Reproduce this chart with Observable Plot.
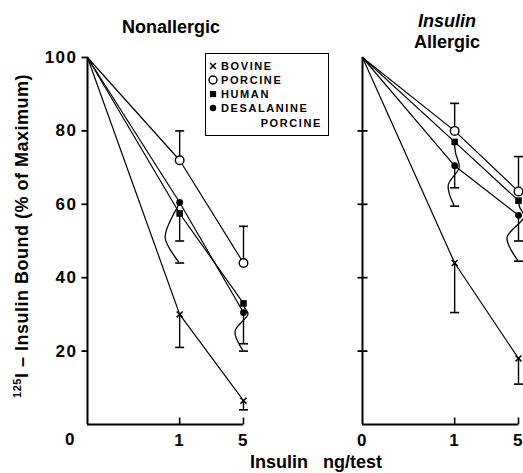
<!DOCTYPE html>
<html>
<head>
<meta charset="utf-8">
<script src="https://cdn.jsdelivr.net/npm/d3@7"></script>
<script src="https://cdn.jsdelivr.net/npm/@observablehq/plot@0.6"></script>
<style>
  body { margin: 0; background: #fff; }
  #wrap { position: relative; width: 523px; height: 473px; overflow: hidden; background: #fff; }
  .legend { position: absolute; left: 205px; top: 53px; width: 124px; height: 83px; box-sizing: border-box;
    border: 1.5px solid #000; background: #fff; font: bold 11px "Liberation Sans", Arial, sans-serif; letter-spacing: 1.6px; color: #000; }
  .legend .row { position: absolute; left: 0; height: 14px; line-height: 14px; white-space: nowrap; }
  .legend svg { position: absolute; top: 2px; }
</style>
</head>
<body>
<div id="wrap"></div>
<script>
// ---------- data ----------
const doses = [0, 1, 5];
const doseLabels = ["0", "1", "5"];
const yTicks = [20, 40, 60, 80, 100];
const seriesNames = ["BOVINE", "PORCINE", "HUMAN", "DESALANINE PORCINE"];
const panelNames = ["Nonallergic", "Insulin Allergic"];

// % of maximum bound at doses 0, 1, 5 ng/test
const nonBovine  = [100, 30, 6.5];
const nonPorcine = [100, 72, 44];
const nonHuman   = [100, 57.5, 33];
const nonDesal   = [100, 60.5, 30.5];
const allBovine  = [100, 44, 18];
const allPorcine = [100, 80, 63.5];
const allHuman   = [100, 77, 61];
const allDesal   = [100, 70.5, 57];

// error bar ends (null = none)
const nonBovineErr  = [null, 21, 4];
const nonPorcineErr = [null, 80, 54];
const nonHumanErr   = [null, 50, 20];
const nonDesalErr   = [null, 44, 22];
const allBovineErr  = [null, 30.5, 11];
const allPorcineErr = [null, 87.5, 73];
const allHumanErr   = [null, 59.5, 44.5];
const allDesalErr   = [null, 64.5, 50];

// error bars drawn as curved leaders around another series' point: [panel, series, dose, around]
const curvedBars = [
  ["Nonallergic", "DESALANINE PORCINE", 1, "HUMAN"],
  ["Nonallergic", "HUMAN", 5, "DESALANINE PORCINE"],
  ["Insulin Allergic", "HUMAN", 1, "DESALANINE PORCINE"],
  ["Insulin Allergic", "HUMAN", 5, "DESALANINE PORCINE"]
];

// ---------- style ----------
const FONT = '"Liberation Sans", Arial, Helvetica, sans-serif';
const curveBulge = [[-6, -14], [5, -8], [5, -6], [6, -11]]; // px offsets of leader bulges

// ---------- tables ----------
const valueTable = {
  "Nonallergic": [nonBovine, nonPorcine, nonHuman, nonDesal],
  "Insulin Allergic": [allBovine, allPorcine, allHuman, allDesal]
};
const errTable = {
  "Nonallergic": [nonBovineErr, nonPorcineErr, nonHumanErr, nonDesalErr],
  "Insulin Allergic": [allBovineErr, allPorcineErr, allHumanErr, allDesalErr]
};
const rows = [];
for (const p of panelNames) {
  seriesNames.forEach((s, i) => {
    doses.forEach((d, j) => {
      rows.push({panel: p, series: s, dose: d, value: valueTable[p][i][j], err: errTable[p][i][j]});
    });
  });
}
const find = (p, s, d) => rows.find(r => r.panel === p && r.series === s && r.dose === d);
const isCurved = r => curvedBars.some(c => c[0] === r.panel && c[1] === r.series && c[2] === r.dose);

// custom symbols
const capSym = {draw(c) { c.moveTo(-4.5, 0); c.lineTo(4.5, 0); }};
const upTick = {draw(c) { c.moveTo(0, 0); c.lineTo(0, -7); }};
const leftTick = {draw(c) { c.moveTo(-6, 0); c.lineTo(0, 0); }};
const crossTick = {draw(c) { c.moveTo(-5, 0); c.lineTo(5, 0); }};

function leaders(panel) {
  const items = curvedBars.map((c, k) => ({c, k})).filter(o => o.c[0] === panel);
  return (index, scales) => {
    const x = scales.x, y = scales.y;
    const g = d3.create("svg:g").attr("fill", "none").attr("stroke", "black").attr("stroke-width", 1.3);
    const line = d3.line().curve(d3.curveCatmullRom.alpha(0.5));
    for (const {c: [p, s, dose, around], k} of items) {
      const r = find(p, s, dose);
      const av = find(p, around, dose).value;
      const [a, b] = curveBulge[k];
      const X = x(dose);
      const y0 = y(r.value), ya = y(av), ye = y(r.err);
      const pts = [[X, y0], [X + a * 0.3, (y0 + ya) / 2], [X + a, ya + 2], [X + b, (ya + ye) / 2], [X, ye]];
      g.append("path").attr("d", line(pts));
    }
    return g.node();
  };
}

function panel(p, opts) {
  const data = rows.filter(r => r.panel === p);
  const errs = data.filter(r => r.err != null);
  const straight = errs.filter(r => !isCurved(r));
  const by = s => data.filter(r => r.series === s && r.dose !== 0);
  const marks = [
    Plot.ruleY([0], {x1: 0, x2: 5, stroke: "black", strokeWidth: 2}),
    Plot.ruleX([0], {y1: 0, y2: 100, stroke: "black", strokeWidth: 2}),
    Plot.dot(doses.filter(d => d > 0), {x: d => d, y: () => 0, symbol: upTick, stroke: "black", fill: "none", strokeWidth: 1.6}),
    Plot.line(data, {x: "dose", y: "value", z: "series", stroke: "black", strokeWidth: 1.2}),
    Plot.ruleX(straight, {x: "dose", y1: "value", y2: "err", stroke: "black", strokeWidth: 1.4}),
    leaders(p),
    Plot.dot(errs, {x: "dose", y: "err", symbol: capSym, stroke: "black", fill: "none", strokeWidth: 1.6}),
    Plot.dot(by("BOVINE"), {x: "dose", y: "value", symbol: "times", r: 2.8, stroke: "black", fill: "none", strokeWidth: 1.5}),
    Plot.dot(by("PORCINE"), {x: "dose", y: "value", symbol: "circle", r: 4.3, stroke: "black", fill: "white", strokeWidth: 1.4}),
    Plot.dot(by("HUMAN"), {x: "dose", y: "value", symbol: "square", r: 3.7, fill: "black", stroke: "none"}),
    Plot.dot(by("DESALANINE PORCINE"), {x: "dose", y: "value", symbol: "circle", r: 3.4, fill: "black", stroke: "none"})
  ];
  if (opts.left) {
    marks.push(Plot.dot(yTicks, {x: () => 0, y: d => d, symbol: leftTick, stroke: "black", fill: "none", strokeWidth: 1.8}));
    marks.push(Plot.text([doses[0]], {x: d => d, y: () => 0, text: () => doseLabels[0], dx: -17, dy: 15, fontSize: 17}));
  } else {
    marks.push(Plot.dot(yTicks.filter(d => d < 100), {x: () => 0, y: d => d, symbol: crossTick, stroke: "black", fill: "none", strokeWidth: 1.8}));
  }
  const xt = opts.left ? doses.filter(d => d > 0) : doses;
  const svg = Plot.plot({
    width: opts.width, height: 473,
    marginTop: 57, marginBottom: 49, marginLeft: opts.marginLeft, marginRight: opts.marginRight,
    style: {fontFamily: FONT, fontSize: "17px", fontWeight: "bold", background: "transparent", overflow: "visible", letterSpacing: "1.5px"},
    x: {type: "pow", exponent: 0.327, domain: [0, 5], ticks: xt, tickFormat: d => doseLabels[doses.indexOf(d)], tickSize: 0, tickPadding: 9, label: null},
    y: opts.left
      ? {domain: [0, 100], ticks: yTicks, tickSize: 0, tickPadding: 10, label: null}
      : {domain: [0, 100], axis: null},
    marks
  });
  svg.style.position = "absolute";
  svg.style.left = opts.offset + "px";
  svg.style.top = "0px";
  return svg;
}

const wrap = document.getElementById("wrap");
wrap.appendChild(panel(panelNames[0], {left: true, width: 262, marginLeft: 87, marginRight: 19, offset: 0}));
wrap.appendChild(panel(panelNames[1], {left: false, width: 261, marginLeft: 100, marginRight: 5, offset: 262}));

// ---------- text overlay ----------
const ov = d3.select(wrap).append("svg")
  .attr("width", 523).attr("height", 473)
  .style("position", "absolute").style("left", "0px").style("top", "0px")
  .attr("font-family", FONT).attr("font-weight", "bold").attr("fill", "black");
ov.append("text").attr("x", 171).attr("y", 33).attr("text-anchor", "middle").attr("font-size", 18).text(panelNames[0]);
const [w1, w2] = panelNames[1].split(" ");
ov.append("text").attr("x", 447).attr("y", 27).attr("text-anchor", "middle").attr("font-size", 18).attr("font-style", "italic").text(w1);
ov.append("text").attr("x", 447).attr("y", 48).attr("text-anchor", "middle").attr("font-size", 18).text(w2);
const yl = ov.append("text").attr("transform", "translate(28,236) rotate(-90)").attr("text-anchor", "middle")
  .attr("font-size", 18).attr("letter-spacing", "0.5px");
yl.append("tspan").attr("font-size", 11).attr("dy", -7).text("125");
yl.append("tspan").attr("dy", 7).text("I \u2013 Insulin Bound (% of Maximum)");
ov.append("text").attr("x", 316).attr("y", 468).attr("text-anchor", "middle").attr("font-size", 18)
  .text("Insulin\u00a0\u00a0\u00a0ng/test");

// ---------- legend ----------
const legend = d3.select(wrap).append("div").attr("class", "legend");
const legendSyms = [
  {type: d3.symbolTimes, r: 2.8, fill: "none", stroke: "black", sw: 1.5},
  {type: d3.symbolCircle, r: 4.0, fill: "white", stroke: "black", sw: 1.4},
  {type: d3.symbolSquare, r: 3.5, fill: "black", stroke: "none", sw: 0},
  {type: d3.symbolCircle, r: 3.2, fill: "black", stroke: "none", sw: 0}
];
const rowTops = [5, 19, 33, 47];
seriesNames.forEach((name, i) => {
  const words = name.split(" ");
  const row = legend.append("div").attr("class", "row").style("top", rowTops[i] + "px").style("width", "121px");
  const sv = row.append("svg").attr("width", 10).attr("height", 10).style("left", "2px");
  const sym = legendSyms[i];
  sv.append("path").attr("transform", "translate(5,5)")
    .attr("d", d3.symbol(sym.type, Math.PI * sym.r * sym.r)())
    .attr("fill", sym.fill).attr("stroke", sym.stroke).attr("stroke-width", sym.sw);
  row.append("span").style("position", "absolute").style("left", "15px").text(words[0]);
  if (words.length > 1) {
    legend.append("div").attr("class", "row").style("top", (rowTops[i] + 15) + "px")
      .style("width", "121px").style("text-align", "right")
      .append("span").style("padding-right", "5px").text(words.slice(1).join(" "));
  }
});
</script>
</body>
</html>
